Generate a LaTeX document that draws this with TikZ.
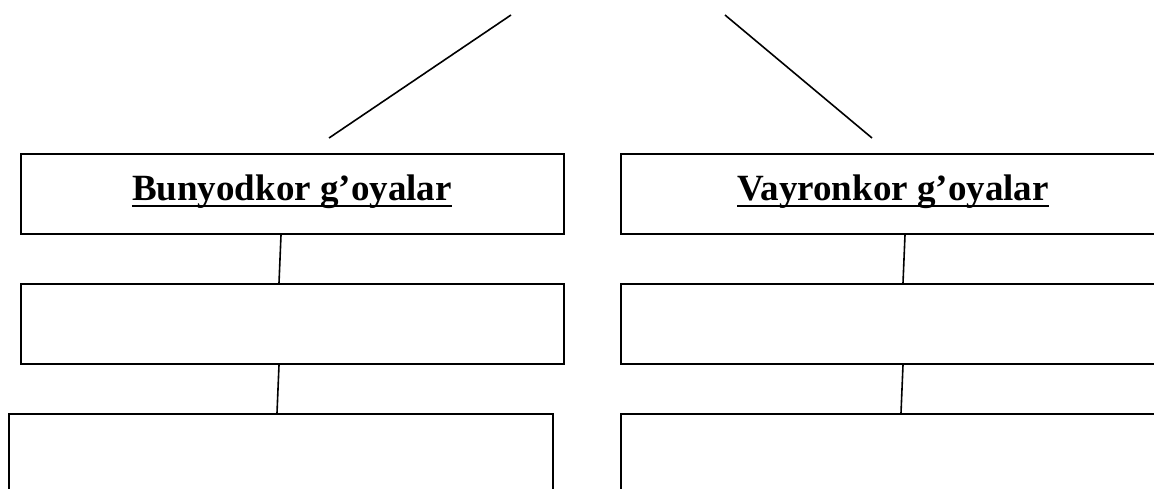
\documentclass[tikz,border=0pt]{standalone}
\usepackage{fontspec}
\setmainfont{Liberation Serif}
\usetikzlibrary{calc}
\tikzset{
  box/.style={draw=black, line width=2pt, inner sep=0pt, minimum height=80pt},
  conn/.style={draw=black, line width=1.6pt},
  title/.style={inner sep=0pt, font=\fontsize{37}{40}\selectfont\bfseries, anchor=base},
  uline/.style={draw=black, line width=2.8pt}
}
\begin{document}
\begin{tikzpicture}[x=1pt,y=-1pt]
\useasboundingbox (0,0) rectangle (1154,488);
\begin{scope}
\clip (0,0) rectangle (1154,488);
% row 1
\node[box, minimum width=543pt, anchor=north west] (b1l) at (20,153) {};
\node[box, minimum width=546pt, anchor=north west] (b1r) at (620,153) {};
% row 2
\node[box, minimum width=543pt, anchor=north west] (b2l) at (20,283) {};
\node[box, minimum width=546pt, anchor=north west] (b2r) at (620,283) {};
% row 3
\node[box, minimum width=544pt, minimum height=120pt, anchor=north west] (b3l) at (8,413) {};
\node[box, minimum width=546pt, minimum height=120pt, anchor=north west] (b3r) at (620,413) {};
\end{scope}
% titles
\node[title] (t1) at (292,200) {Bunyodkor g’oyalar};
\node[title] (t2) at (893,200) {Vayronkor g’oyalar};
\draw[uline] ($(t1.base west)+(0,-6pt)$) -- ($(t1.base east)+(0,-6pt)$);
\draw[uline] ($(t2.base west)+(0,-6pt)$) -- ($(t2.base east)+(0,-6pt)$);
% top lines
\coordinate (l1a) at (329,138);
\coordinate (l1b) at (511,15);
\coordinate (l2a) at (725,15);
\coordinate (l2b) at (872,138);
\draw[conn] (l1a) -- (l1b);
\draw[conn] (l2a) -- (l2b);
% connectors
\draw[conn] ($(b1l.south west)+(261,0)$) -- ($(b2l.north west)+(259,0)$);
\draw[conn] ($(b2l.south west)+(259,0)$) -- ($(b3l.north west)+(269,0)$);
\draw[conn] ($(b1r.south west)+(285,0)$) -- ($(b2r.north west)+(283,0)$);
\draw[conn] ($(b2r.south west)+(283,0)$) -- ($(b3r.north west)+(281,0)$);
\end{tikzpicture}
\end{document}
